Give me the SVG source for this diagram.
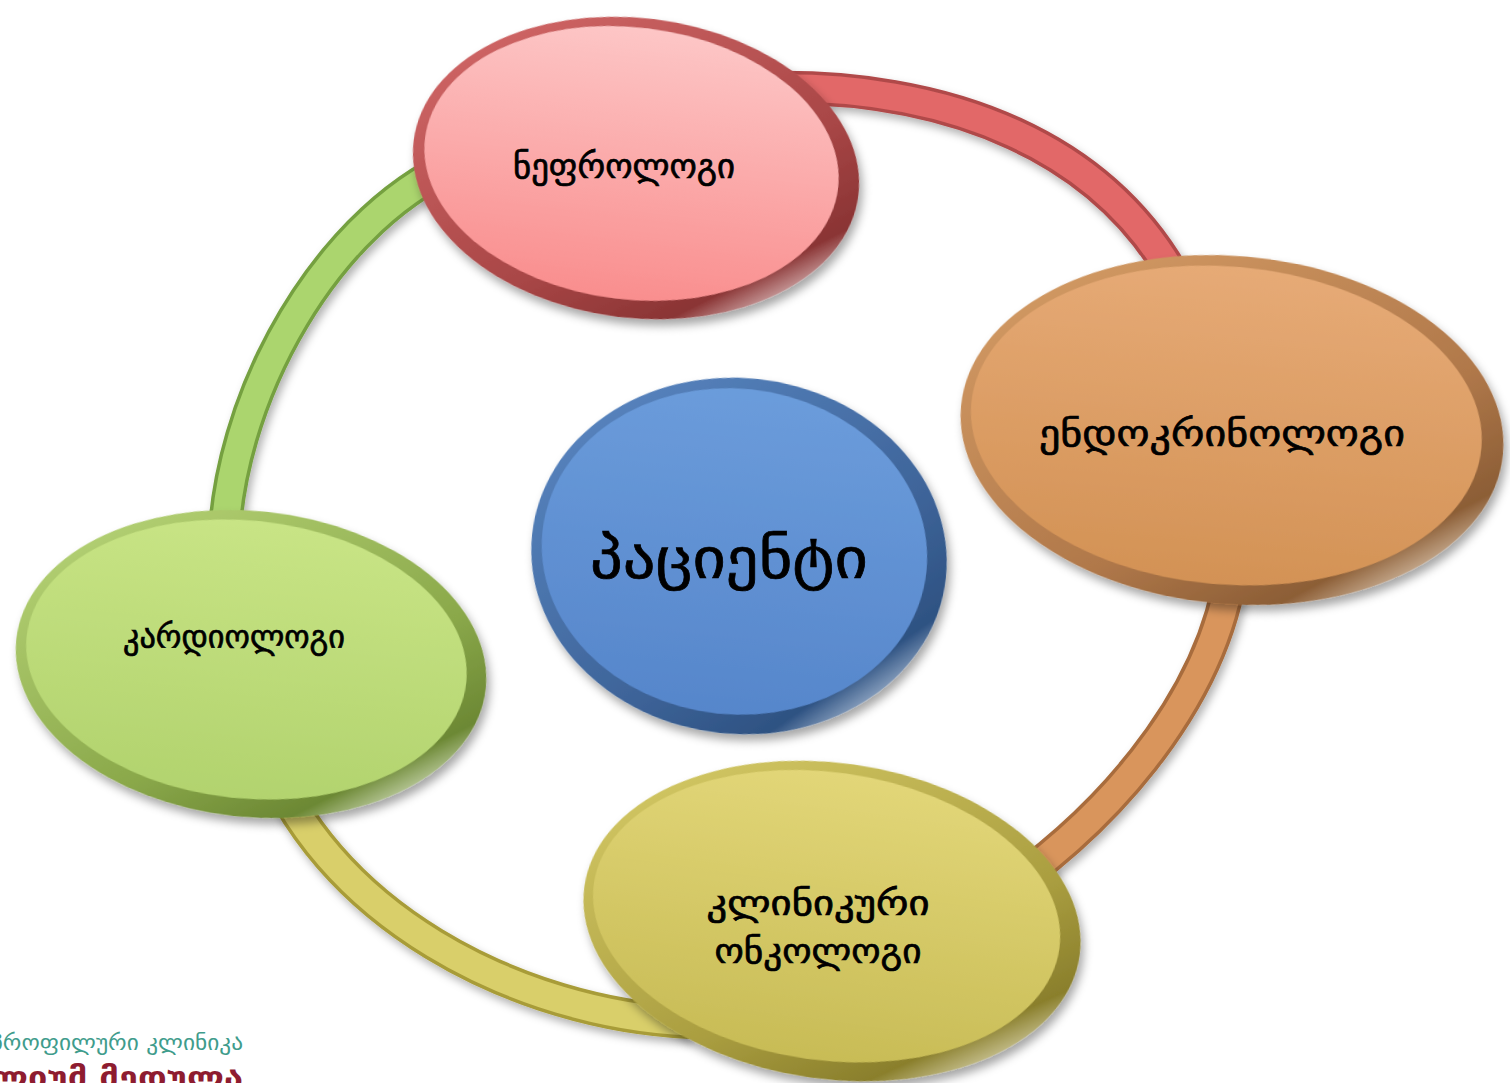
<svg xmlns="http://www.w3.org/2000/svg" width="1510" height="1083" viewBox="0 0 1510 1083">
<style>
.lbl{font-family:"DejaVu Sans","Noto Sans",sans-serif;fill:#000;stroke:#000;stroke-width:0.7;text-anchor:middle}
.edge{fill:none;stroke-width:34;stroke-linecap:butt}
.core{fill:none;stroke-width:27;stroke-linecap:butt}
</style>
<defs>
<filter id="sh" x="-20%" y="-20%" width="140%" height="140%"><feDropShadow dx="4" dy="6" stdDeviation="5" flood-color="#000" flood-opacity="0.35"/></filter>
<filter id="shr" x="-10%" y="-10%" width="120%" height="120%"><feDropShadow dx="3" dy="5" stdDeviation="4" flood-color="#000" flood-opacity="0.3"/></filter>
<linearGradient id="rimR" x1="0" y1="0" x2="1" y2="1"><stop offset="0" stop-color="#d86c6c"/><stop offset="0.6" stop-color="#a84646"/><stop offset="0.8" stop-color="#8a3434"/><stop offset="0.9" stop-color="#f0dede"/><stop offset="1" stop-color="#9a4040"/></linearGradient>
<linearGradient id="faceR" x1="0" y1="0" x2="0" y2="1"><stop offset="0" stop-color="#fdc6c6"/><stop offset="1" stop-color="#f98e8e"/></linearGradient>
<linearGradient id="rimO" x1="0" y1="0" x2="1" y2="1"><stop offset="0" stop-color="#d9a068"/><stop offset="0.6" stop-color="#b0784a"/><stop offset="0.8" stop-color="#8c5e36"/><stop offset="0.9" stop-color="#ecdcc8"/><stop offset="1" stop-color="#946238"/></linearGradient>
<linearGradient id="faceO" x1="0" y1="0" x2="0" y2="1"><stop offset="0" stop-color="#e6aa76"/><stop offset="1" stop-color="#d39255"/></linearGradient>
<linearGradient id="rimB" x1="0" y1="0" x2="1" y2="1"><stop offset="0" stop-color="#5c8ac6"/><stop offset="0.6" stop-color="#3e6499"/><stop offset="0.8" stop-color="#2e5282"/><stop offset="0.9" stop-color="#c8d6e8"/><stop offset="1" stop-color="#34588a"/></linearGradient>
<linearGradient id="faceB" x1="0" y1="0" x2="0" y2="1"><stop offset="0" stop-color="#6b9cdb"/><stop offset="1" stop-color="#5686cb"/></linearGradient>
<linearGradient id="rimG" x1="0" y1="0" x2="1" y2="1"><stop offset="0" stop-color="#bcd97c"/><stop offset="0.6" stop-color="#8aa84a"/><stop offset="0.8" stop-color="#6c8834"/><stop offset="0.9" stop-color="#e8f0d8"/><stop offset="1" stop-color="#7a9640"/></linearGradient>
<linearGradient id="faceG" x1="0" y1="0" x2="0" y2="1"><stop offset="0" stop-color="#c8e485"/><stop offset="1" stop-color="#b2d36e"/></linearGradient>
<linearGradient id="rimY" x1="0" y1="0" x2="1" y2="1"><stop offset="0" stop-color="#dacf6a"/><stop offset="0.6" stop-color="#aa9e40"/><stop offset="0.8" stop-color="#8a7f2c"/><stop offset="0.9" stop-color="#ece8cc"/><stop offset="1" stop-color="#948a34"/></linearGradient>
<linearGradient id="faceY" x1="0" y1="0" x2="0" y2="1"><stop offset="0" stop-color="#e2d678"/><stop offset="1" stop-color="#c8bc56"/></linearGradient>
</defs>
<rect width="1510" height="1083" fill="#fff"/>
<g id="connectors" filter="url(#shr)">
<path class="edge" stroke="#b04a4a" d="M770,88 C930,85 1120,135 1195,320"/>
<path class="core" stroke="#e26868" d="M770,88 C930,85 1120,135 1195,320"/>
<path class="edge" stroke="#a86c3c" d="M1234,540 C1228,680 1120,810 1000,893"/>
<path class="core" stroke="#d9955c" d="M1234,540 C1228,680 1120,810 1000,893"/>
<path class="edge" stroke="#a89c38" d="M690,1022 C520,1015 320,915 262,740"/>
<path class="core" stroke="#d9cf6a" d="M690,1022 C520,1015 320,915 262,740"/>
<path class="edge" stroke="#74a040" d="M224,560 C222,400 330,210 470,158"/>
<path class="core" stroke="#abd56e" d="M224,560 C222,400 330,210 470,158"/>
</g>
<g id="node-nephro">
<g filter="url(#sh)" transform="rotate(7 636 168)">
<ellipse cx="636" cy="168" rx="224" ry="150" fill="url(#rimR)"/>
<ellipse cx="631" cy="164" rx="208" ry="136" fill="url(#faceR)"/>
</g>
<text class="lbl" x="624" y="178" font-size="34" textLength="222" lengthAdjust="spacingAndGlyphs">ნეფროლოგი</text>
</g>
<g id="node-endo">
<g filter="url(#sh)" transform="rotate(5 1232 430)">
<ellipse cx="1232" cy="430" rx="272" ry="174" fill="url(#rimO)"/>
<ellipse cx="1226" cy="426" rx="256" ry="159" fill="url(#faceO)"/>
</g>
<text class="lbl" x="1222" y="446" font-size="36" textLength="366" lengthAdjust="spacingAndGlyphs">ენდოკრინოლოგი</text>
</g>
<g id="node-patient">
<g filter="url(#sh)" transform="rotate(6 739 556)">
<ellipse cx="739" cy="556" rx="208" ry="178" fill="url(#rimB)"/>
<ellipse cx="734" cy="552" rx="193" ry="163" fill="url(#faceB)"/>
</g>
<text class="lbl" x="729" y="578" font-size="56" stroke-width="1" textLength="278" lengthAdjust="spacingAndGlyphs">პაციენტი</text>
</g>
<g id="node-cardio">
<g filter="url(#sh)" transform="rotate(6 251 664)">
<ellipse cx="251" cy="664" rx="236" ry="153" fill="url(#rimG)"/>
<ellipse cx="246" cy="660" rx="221" ry="139" fill="url(#faceG)"/>
</g>
<text class="lbl" x="234" y="648" font-size="32" textLength="222" lengthAdjust="spacingAndGlyphs">კარდიოლოგი</text>
</g>
<g id="node-onco">
<g filter="url(#sh)" transform="rotate(8 832 921)">
<ellipse cx="832" cy="921" rx="250" ry="158" fill="url(#rimY)"/>
<ellipse cx="826" cy="917" rx="235" ry="144" fill="url(#faceY)"/>
</g>
<text class="lbl" x="818" y="915" font-size="34" textLength="223" lengthAdjust="spacingAndGlyphs">კლინიკური</text>
<text class="lbl" x="818" y="963" font-size="34" textLength="207" lengthAdjust="spacingAndGlyphs">ონკოლოგი</text>
</g>
<g id="logo">
<text x="243" y="1050" font-family="DejaVu Sans, sans-serif" font-size="22" fill="#3f9c8c" text-anchor="end" textLength="252" lengthAdjust="spacingAndGlyphs">პროფილური კლინიკა</text>
<text x="243" y="1088" font-family="DejaVu Sans, sans-serif" font-size="30" font-weight="bold" fill="#8e1c30" text-anchor="end" textLength="252" lengthAdjust="spacingAndGlyphs">ლიუმ მედულა</text>
</g>
</svg>
